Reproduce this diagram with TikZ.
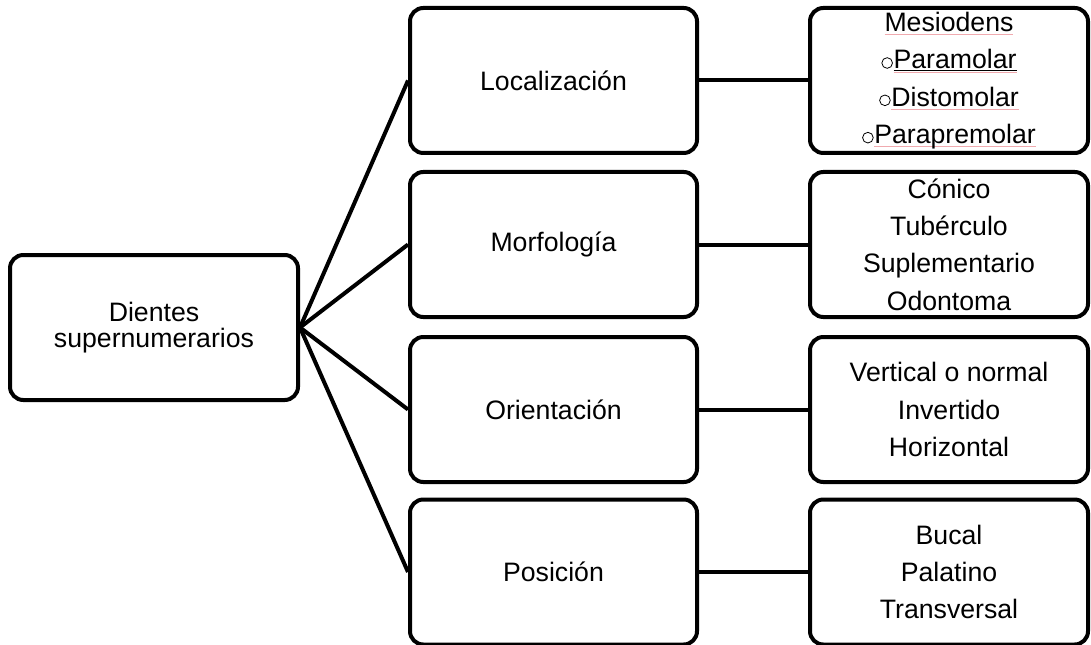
\documentclass[tikz,border=0pt]{standalone}
\usepackage{fontspec}
\setmainfont{Liberation Sans}
\usetikzlibrary{positioning}
\definecolor{spellpink}{RGB}{240,170,175}
\newsavebox\wordbox
% word with the pink spell-check line under it
\newcommand{\spellword}[1]{\sbox\wordbox{#1}\rlap{\textcolor{spellpink}{\rule[-3pt]{\wd\wordbox}{0.8pt}}}\usebox\wordbox}
% same, with a black underline as well
\newcommand{\linkword}[1]{\sbox\wordbox{#1}\rlap{\rule[-1.8pt]{\wd\wordbox}{0.7pt}}\rlap{\textcolor{spellpink}{\rule[-3.4pt]{\wd\wordbox}{0.8pt}}}\usebox\wordbox}
\newcommand{\ringmark}{\tikz[baseline=0pt]\draw[line width=0.6pt] (0,4.3pt) circle (4pt);\hspace{0.5pt}}

\begin{document}
\begin{tikzpicture}[x=0.75pt,y=-0.75pt,
  box/.style={draw,line width=3pt,rounded corners=10pt,inner sep=0pt,
    align=center,font=\fontsize{20}{28}\selectfont,minimum height=108.75pt},
  link/.style={line width=3pt}]
\useasboundingbox (0,0) rectangle (1091,645);
% root
\node[box,minimum width=216pt,font=\fontsize{20}{19.5}\selectfont](root)
  at(154,327.5){Dientes\\supernumerarios};
% criteria
\node[box,minimum width=215.25pt](loc) at(553.5,80.5){Localización};
\node[box,minimum width=215.25pt](morf) at(553.5,244.5){Morfología};
\node[box,minimum width=215.25pt](ori) at(553.5,409.5){Orientación};
\node[box,minimum width=215.25pt](pos) at(553.5,572){Posición};
% types
\node[box,minimum width=208.5pt](locitems) at(949,80.5)
  {\spellword{Mesiodens}\\\ringmark\linkword{Paramolar}\\
   \ringmark\spellword{Distomolar}\\\ringmark\spellword{Parapremolar}};
\node[box,minimum width=208.5pt](morfitems) at(949,244.5)
  {Cónico\\Tubérculo\\Suplementario\\Odontoma};
\node[box,minimum width=208.5pt](oriitems) at(949,409.5)
  {Vertical o normal\\Invertido\\Horizontal};
\node[box,minimum width=208.5pt](positems) at(949,572)
  {Bucal\\Palatino\\Transversal};
\foreach \m/\r in {loc/locitems,morf/morfitems,ori/oriitems,pos/positems}{
  \draw[link](root.east)--(\m.west);
  \draw[link](\m.east)--(\r.west);
}
\end{tikzpicture}
\end{document}
